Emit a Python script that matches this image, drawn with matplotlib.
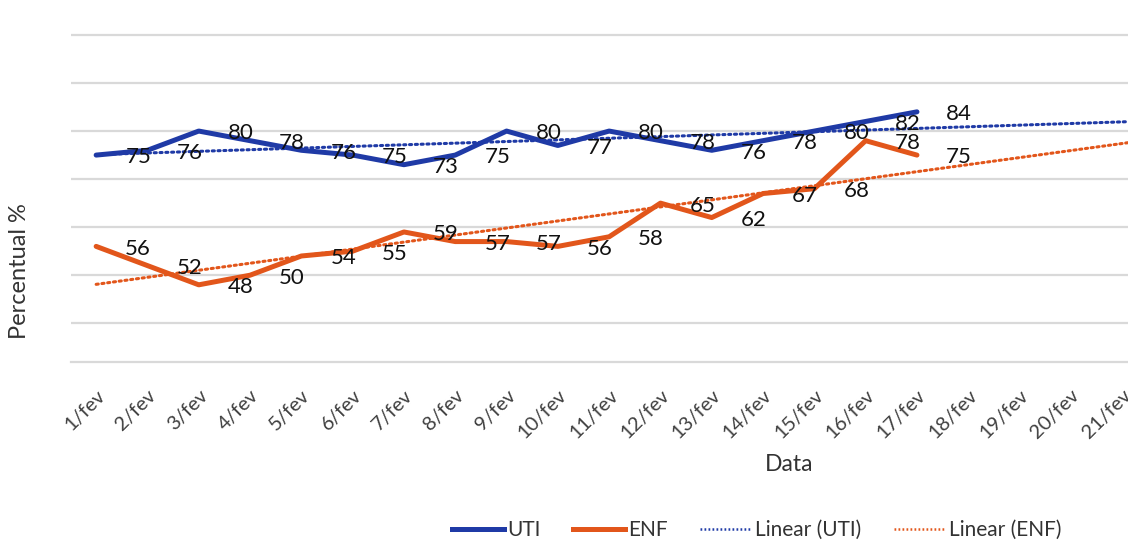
import numpy as np
import matplotlib
matplotlib.use("Agg")
import matplotlib.pyplot as plt
from matplotlib.lines import Line2D

plt.rcParams['font.family'] = ['Lato', 'DejaVu Sans']

# ---- data ----
days = [f"{d}/fev" for d in range(1, 29)]
uti = [75, 76, 80, 78, 76, 75, 73, 75, 80, 77, 80, 78, 76, 78, 80, 82, 84]
enf = [56, 52, 48, 50, 54, 55, 59, 57, 57, 56, 58, 65, 62, 67, 68, 78, 75]
y_grid = [40, 50, 60, 70, 80, 90, 100]

BLUE = "#1f3aa6"
ORANGE = "#e2561b"
GRID = "#d9d9d9"

W, H = 1128, 550
fig = plt.figure(figsize=(W / 100, H / 100), dpi=100)

# axes geometry in pixels (plot area extends beyond the cropped right edge)
left_px, cat_px = 70.5, 51.3
ncat = len(days)
y_lo, y_hi = 32, 102
ppu = 4.805
bottom_px = 361.7
ax_w = ncat * cat_px
ax_h = (y_hi - y_lo) * ppu
ax = fig.add_axes([left_px / W, 1 - bottom_px / H, ax_w / W, ax_h / H])
ax.set_xlim(0.5, ncat + 0.5)
ax.set_ylim(y_lo, y_hi)

x_pos = np.arange(1, len(uti) + 1)

# gridlines
for g in y_grid:
    ax.axhline(g, color=GRID, lw=1.6, zorder=0)
for s in ['top', 'right', 'left']:
    ax.spines[s].set_visible(False)
ax.spines['bottom'].set_color(GRID)
ax.spines['bottom'].set_linewidth(1.6)
ax.set_yticks([])

# trendlines (least squares fit of the series)
x_tr = np.array([1, ncat + 0.5])
pu = np.polyfit(x_pos, uti, 1)
pe = np.polyfit(x_pos, enf, 1)
ax.plot(x_tr, np.polyval(pu, x_tr), color=BLUE, lw=2.2, ls=(0, (0.7, 1.2)),
        dash_capstyle='round', zorder=2)
ax.plot(x_tr, np.polyval(pe, x_tr), color=ORANGE, lw=2.2, ls=(0, (0.7, 1.2)),
        dash_capstyle='round', zorder=2)

# series
ax.plot(x_pos, uti, color=BLUE, lw=3.6, solid_joinstyle='round',
        solid_capstyle='round', zorder=3)
ax.plot(x_pos, enf, color=ORANGE, lw=3.6, solid_joinstyle='round',
        solid_capstyle='round', zorder=3)

# data labels (offset to the right of each point)
for xs, v in zip(x_pos, uti):
    ax.text(xs + 0.82, v - 0.5, str(v), ha='center', va='center',
            fontsize=16, color='#111111', zorder=4)
for xs, v in zip(x_pos, enf):
    ax.text(xs + 0.82, v - 0.5, str(v), ha='center', va='center',
            fontsize=16, color='#111111', zorder=4)

# x ticks
ax.set_xticks(np.arange(1, ncat + 1))
ax.set_xticklabels(days, rotation=45, ha='right', rotation_mode='anchor',
                   fontsize=14.5, color='#404040')
ax.tick_params(axis='x', length=0, pad=18)

# axis titles
ax.set_xlabel("Data", fontsize=16.5, color='#333333', labelpad=9)
fig.text(20 / W, 1 - 271 / H, "Percentual %", rotation=90, ha='center',
         va='center', fontsize=17, color='#333333')

# legend
handles = [
    Line2D([], [], color=BLUE, lw=3.6),
    Line2D([], [], color=ORANGE, lw=3.6),
    Line2D([], [], color=BLUE, lw=1.8, ls=(0, (0.7, 0.9))),
    Line2D([], [], color=ORANGE, lw=1.8, ls=(0, (0.7, 0.9))),
]
labels = ["UTI", "ENF", "Linear (UTI)", "Linear (ENF)"]
fig.legend(handles, labels, loc='center', bbox_to_anchor=(757 / W, 1 - 530 / H),
           ncol=4, frameon=False, fontsize=15, handlelength=2.5,
           handletextpad=0.15, columnspacing=1.55, labelcolor='#333333')

fig.savefig("out.png", dpi=100)
